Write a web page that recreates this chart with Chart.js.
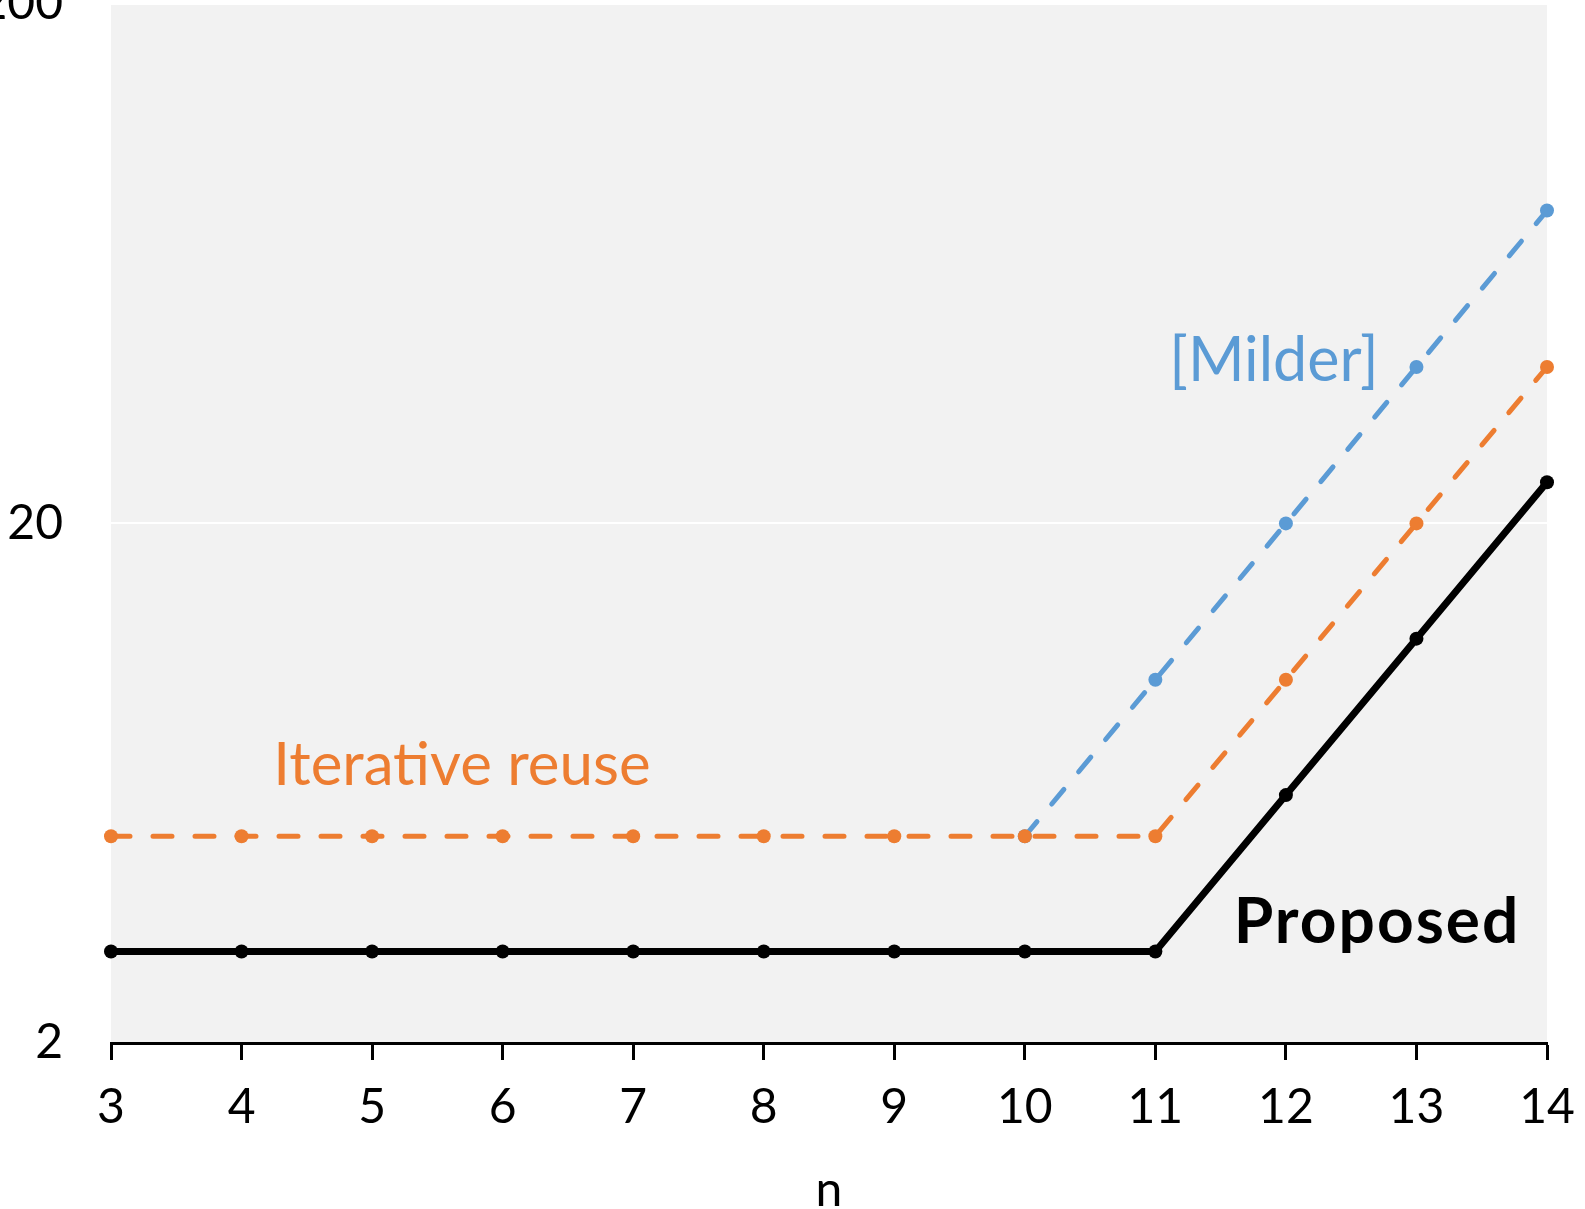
<!DOCTYPE html>
<html>
<head>
<meta charset="utf-8">
<script src="https://cdn.jsdelivr.net/npm/chart.js@4.4.1/dist/chart.umd.min.js"></script>
<style>
  html, body { margin: 0; padding: 0; overflow: hidden; background: #ffffff; }
  #wrap { position: absolute; left: 0; top: -73px; }
</style>
</head>
<body>
<div id="wrap"><canvas id="chart" width="1585" height="1302"></canvas></div>
<script>
// categories and series
var nValues = ['3', '4', '5', '6', '7', '8', '9', '10', '11', '12', '13', '14'];
var proposed = [3, 3, 3, 3, 3, 3, 3, 3, 3, 6, 12, 24];
var iterativeReuse = [5, 5, 5, 5, 5, 5, 5, 5, 5, 10, 20, 40];
var milder = [null, null, null, null, null, null, null, 5, 10, 20, 40, 80];
var yTicks = [2, 20, 200];

var FONT = 'Lato, "Open Sans", sans-serif';

// grey plot area background
var plotBackground = {
    id: 'plotBackground',
    beforeDraw: function (chart) {
        var a = chart.chartArea;
        var ctx = chart.ctx;
        ctx.save();
        ctx.fillStyle = '#f2f2f2';
        ctx.fillRect(a.left, a.top, a.right - a.left, a.bottom - a.top);
        ctx.restore();
    }
};

// series names written inside the plot
var seriesLabels = {
    id: 'seriesLabels',
    afterDatasetsDraw: function (chart) {
        var ctx = chart.ctx;
        var a = chart.chartArea;
        var labels = [
            { text: 'Iterative reuse', color: '#ED7D31', font: '60px ' + FONT, dx: 351, dy: 781, spacing: '0px' },
            { text: '[Milder]', color: '#5B9BD5', font: '61px ' + FONT, dx: 1163, dy: 377, spacing: '0px' },
            { text: 'Proposed', color: '#000000', font: 'bold 64px ' + FONT, dx: 1266, dy: 939, spacing: '2px' }
        ];
        ctx.save();
        ctx.textAlign = 'center';
        ctx.textBaseline = 'alphabetic';
        labels.forEach(function (l) {
            ctx.font = l.font;
            ctx.letterSpacing = l.spacing;
            ctx.fillStyle = l.color;
            ctx.fillText(l.text, a.left + l.dx, a.top + l.dy);
        });
        ctx.restore();
    }
};

function lineSet(label, data, color, dashed, width) {
    return {
        label: label,
        data: data,
        borderColor: color,
        backgroundColor: color,
        borderWidth: width,
        borderDash: dashed ? [19, 23] : [],
        borderCapStyle: dashed ? 'round' : 'butt',
        pointRadius: 7,
        pointHoverRadius: 7,
        pointBorderWidth: 0,
        pointBackgroundColor: color,
        tension: 0,
        spanGaps: false
    };
}

document.addEventListener('DOMContentLoaded', function () {
    var ctx = document.getElementById('chart').getContext('2d');
    new Chart(ctx, {
        type: 'line',
        data: {
            labels: nValues,
            datasets: [
                lineSet('Proposed', proposed, '#000000', false, 7),
                lineSet('Iterative reuse', iterativeReuse, '#ED7D31', true, 5),
                lineSet('[Milder]', milder, '#5B9BD5', true, 5)
            ]
        },
        options: {
            responsive: false,
            animation: false,
            devicePixelRatio: 1,
            layout: { padding: { top: 35, right: 38, left: 0, bottom: 0 } },
            plugins: {
                legend: { display: false },
                tooltip: { enabled: false },
                title: { display: false }
            },
            scales: {
                x: {
                    type: 'category',
                    offset: false,
                    grid: {
                        display: true,
                        drawOnChartArea: false,
                        drawTicks: true,
                        tickLength: 17,
                        tickColor: '#000000',
                        tickWidth: 3
                    },
                    border: { display: true, color: '#000000', width: 3 },
                    ticks: {
                        color: '#000000',
                        font: { family: FONT, size: 48 },
                        padding: 19,
                        maxRotation: 0,
                        autoSkip: false
                    },
                    title: {
                        display: true,
                        text: 'n',
                        color: '#000000',
                        font: { family: FONT, size: 48 },
                        padding: { top: 0, bottom: 10 }
                    },
                    afterFit: function (scale) {
                        scale.height = 186;
                        scale.paddingRight = 0;
                    }
                },
                y: {
                    type: 'logarithmic',
                    min: 2,
                    max: 200,
                    grid: {
                        color: '#ffffff',
                        lineWidth: 2,
                        drawTicks: false
                    },
                    border: { display: false },
                    ticks: {
                        color: '#000000',
                        font: { family: FONT, size: 48 },
                        padding: 48,
                        callback: function (v) { return String(v); }
                    },
                    afterBuildTicks: function (scale) {
                        scale.ticks = yTicks.map(function (v) { return { value: v }; });
                    },
                    afterFit: function (scale) { scale.width = 111; }
                }
            }
        },
        plugins: [plotBackground, seriesLabels]
    });
});
</script>
</body>
</html>
